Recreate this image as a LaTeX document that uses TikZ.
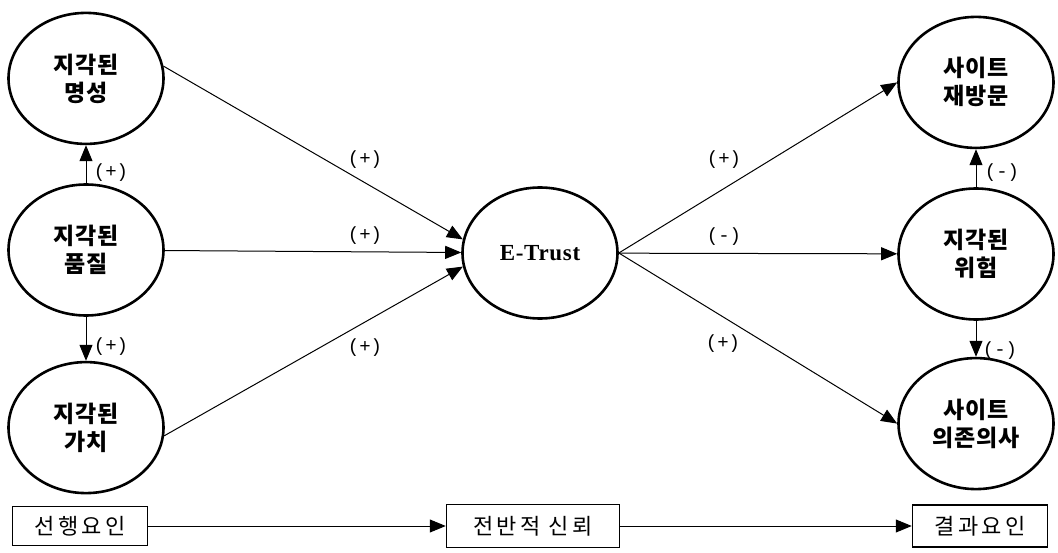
\documentclass[tikz,border=0pt]{standalone}
\usepackage{fontspec}
\usepackage{tikz}
\usetikzlibrary{positioning,shapes.geometric,arrows.meta}
\newfontfamily\kofont[LetterSpace=4]{Noto Sans CJK KR}
\newfontfamily\kobox[LetterSpace=15]{Noto Sans CJK KR}
\newfontfamily\monofont{Liberation Mono}
\newfontfamily\slabfont[LetterSpace=3]{Liberation Serif}

\begin{document}
\begin{tikzpicture}[x=1pt, y=-1pt, >={Triangle[length=16pt,width=13pt]}]
  \tikzstyle{construct}=[draw, ellipse, line width=2.6pt, minimum width=155pt, minimum height=131pt, inner sep=0pt, align=center, font=\kofont\bfseries\fontsize{23}{28}\selectfont]
  \tikzstyle{factor}=[draw, line width=1.5pt, minimum height=42pt, inner sep=0pt, font=\kobox\fontsize{22}{22}\selectfont]
  \tikzstyle{sign}=[inner sep=0pt, font=\monofont\fontsize{19}{19}\selectfont]
  \tikzstyle{link}=[->, line width=1pt]
  \useasboundingbox (0,0) rectangle (1058,553);
  % antecedents
  \node[construct] (qual) at (86,250) {지각된\\품질};
  \node[construct, above=38pt of qual] (rep) {지각된\\명성};
  \node[construct, below=44pt of qual] (val) {지각된\\가치};
  % trust
  \node[construct, font=\slabfont\bfseries\fontsize{23}{23}\selectfont] (trust) at (540,253) {E-Trust};
  % outcomes
  \node[construct] (risk) at (976,254) {지각된\\위험};
  \node[construct, above=38pt of risk] (revisit) {사이트\\재방문};
  \node[construct, below=36pt of risk] (depend) {사이트\\의존의사};
  % legend row
  \node[factor, minimum width=135pt, minimum height=39pt] (prior) at (80,526) {선행요인};
  \node[factor, minimum width=173pt, minimum height=43pt] (overall) at (533,526) {전반적 신뢰};
  \node[factor, minimum width=135pt] (result) at (980,526) {결과요인};
  \draw[link] (qual) -- (rep);
  \draw[link] (qual) -- (val);
  \draw[link] (rep.9) -- (trust.170);
  \draw[link] (qual) -- (trust);
  \draw[link] (val.-6) -- (trust.190);
  \draw[link] (trust.east) -- (revisit.west);
  \draw[link] (trust) -- (risk);
  \draw[link] (trust.east) -- (depend.west);
  \draw[link] (risk) -- (revisit);
  \draw[link] (risk) -- (depend);
  \draw[link] (prior) -- (overall);
  \draw[link] (overall) -- (result);
  \node[sign] (s1) at (111,173) {(+)};
  \node[sign] (s2) at (111,347) {(+)};
  \node[sign] (s3) at (365,160) {(+)};
  \node[sign] (s4) at (365,236) {(+)};
  \node[sign] (s5) at (365,348) {(+)};
  \node[sign] (s6) at (724,160) {(+)};
  \node[sign] (s7) at (724,237) {(-)};
  \node[sign] (s8) at (723,344) {(+)};
  \node[sign] (s9) at (1002,173) {(-)};
  \node[sign] (s10) at (1000,351) {(-)};
\end{tikzpicture}
\end{document}
